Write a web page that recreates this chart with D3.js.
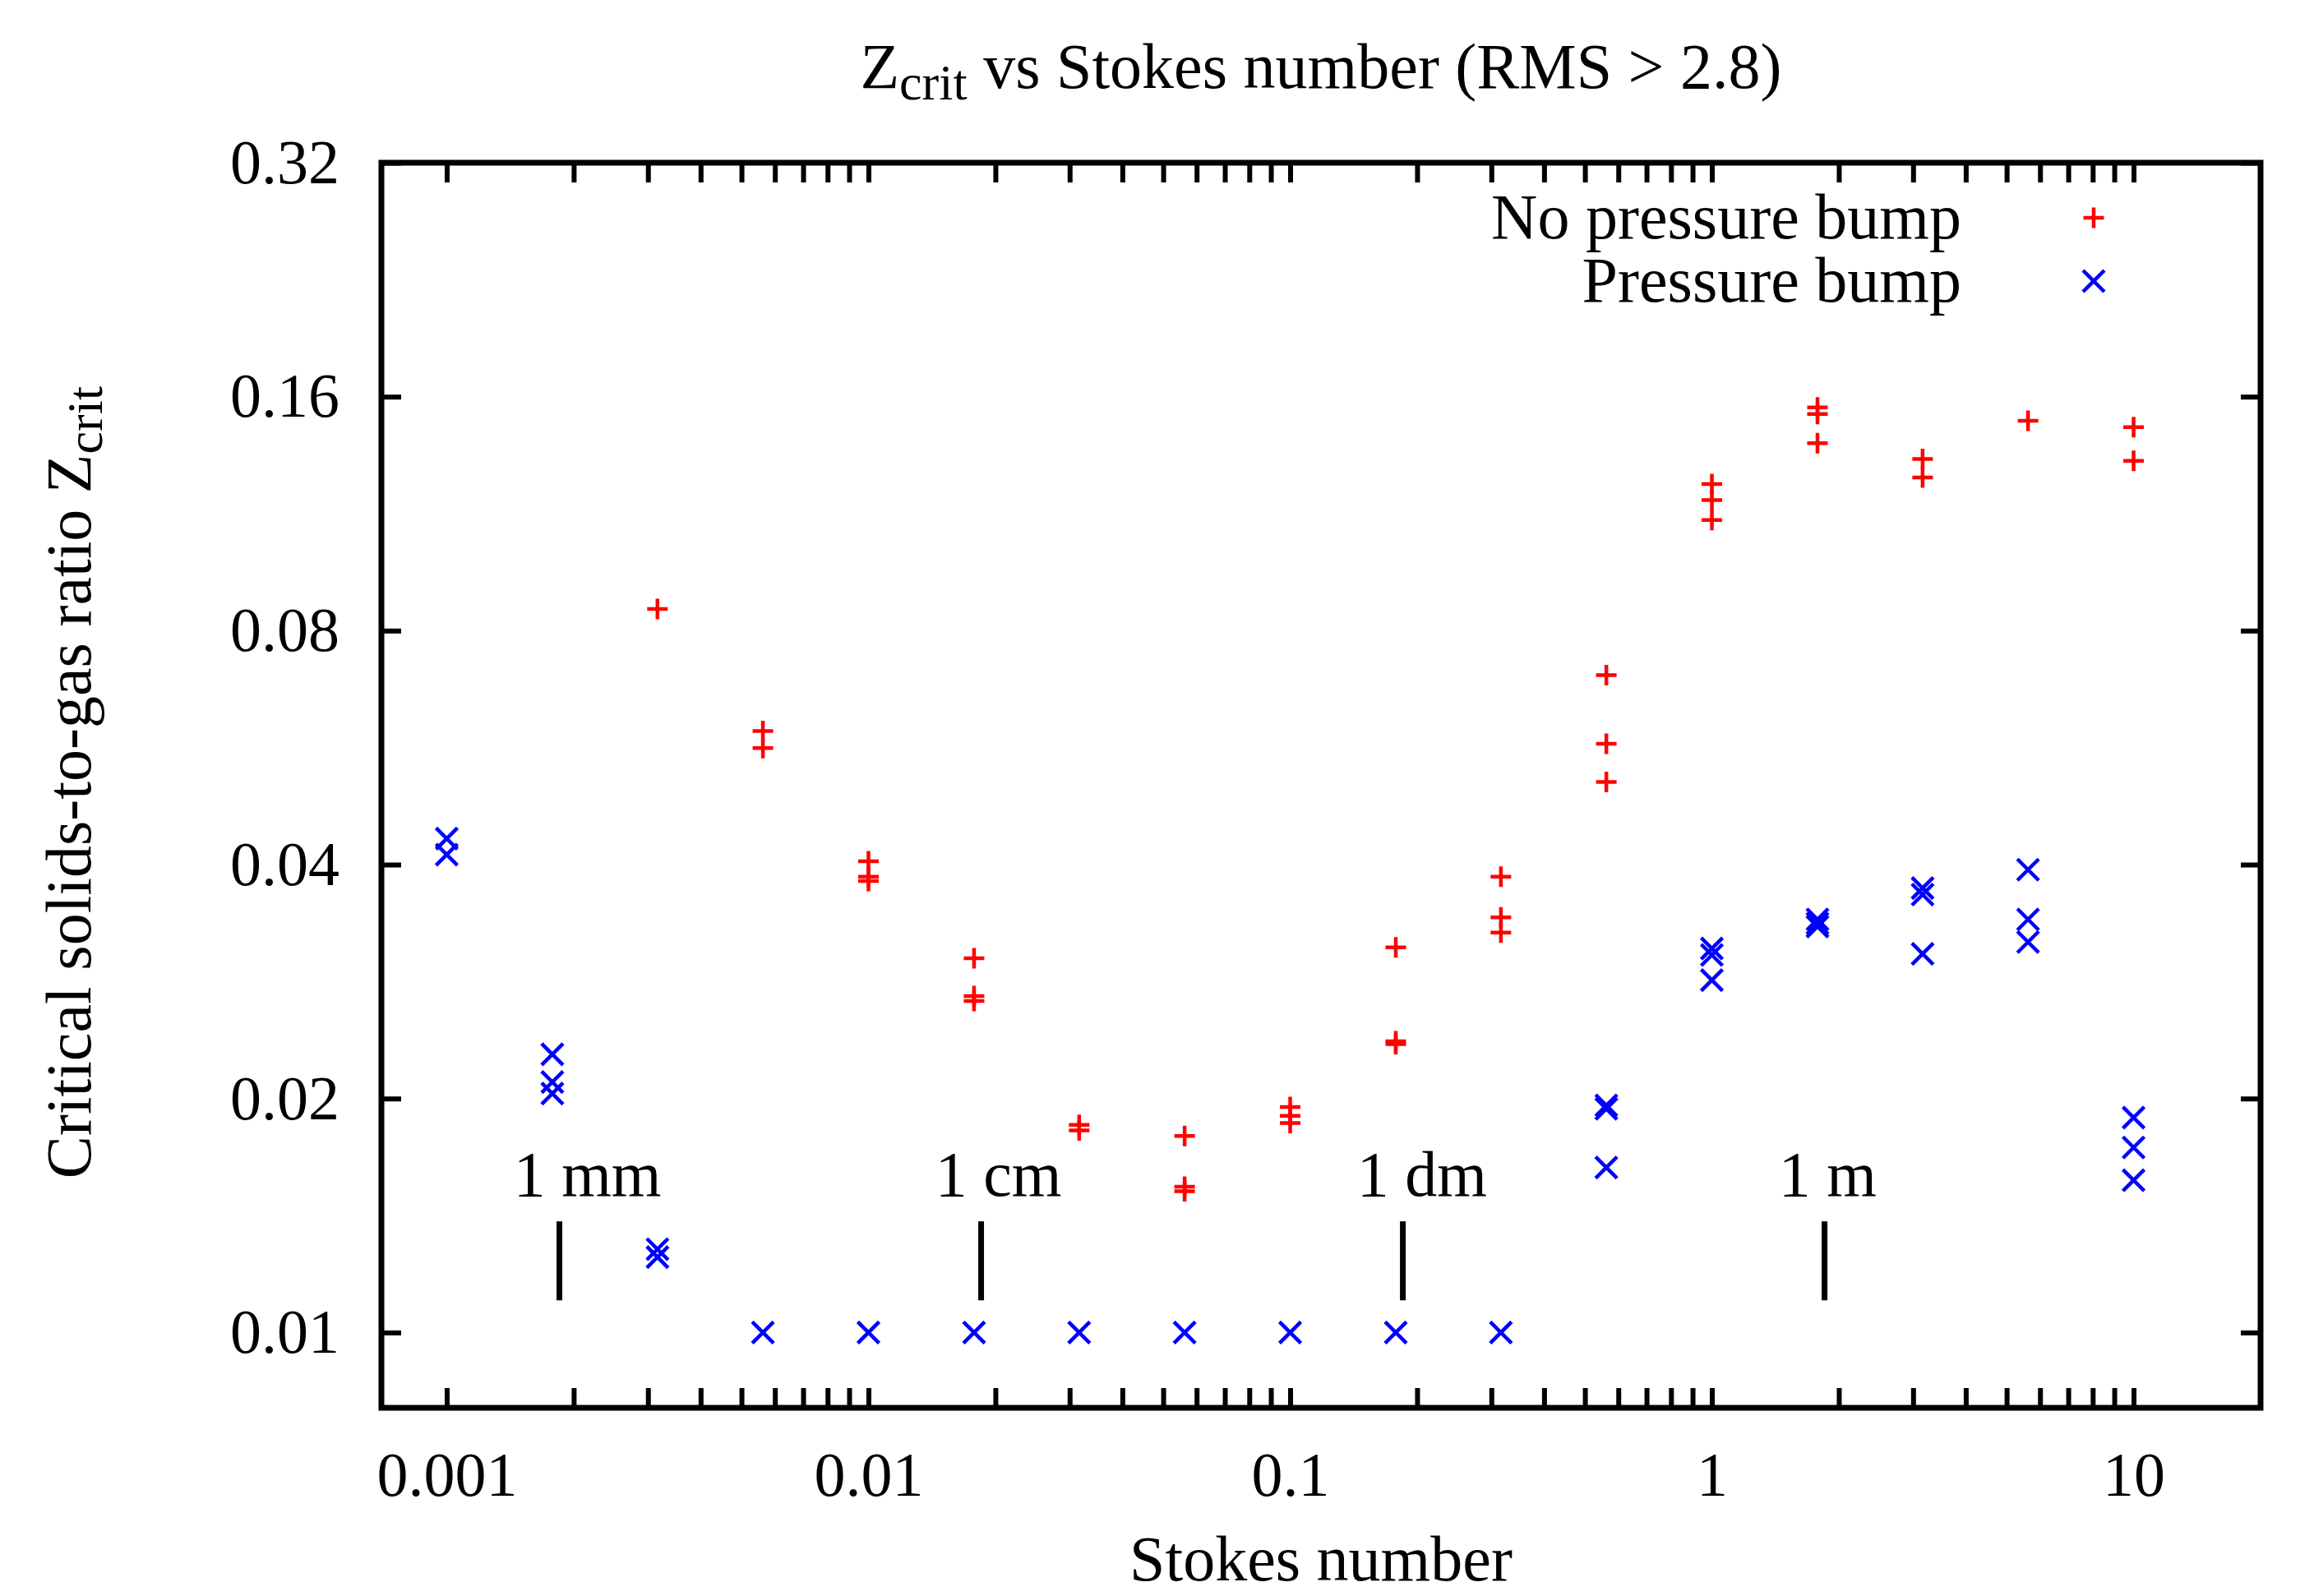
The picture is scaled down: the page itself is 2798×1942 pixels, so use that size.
<!DOCTYPE html>
<html>
<head>
<meta charset="utf-8">
<script src="https://cdn.jsdelivr.net/npm/d3@7"></script>
<style>
body { margin: 0; background: #fff; }
</style>
</head>
<body>
<div id="visual"></div>
<script>
// Stokes number of each run column
var stokes = [0.001, 0.00178, 0.00316, 0.00562, 0.01, 0.0178, 0.0316, 0.0562, 0.1,
    0.178, 0.316, 0.562, 1, 1.78, 3.16, 5.62, 10];

// Z_crit per column, no pressure bump (red +)
var noBump = [
    [], [], [0.0853], [0.0594, 0.0565], [0.0404, 0.0386, 0.0381],
    [0.0303, 0.0271, 0.0267], [0.0185, 0.0182], [0.0179, 0.0154, 0.0152],
    [0.0195, 0.0190, 0.0186], [0.0313, 0.0237, 0.0235], [0.0386, 0.0342, 0.0327],
    [0.0701, 0.0572, 0.0511], [0.1235, 0.1178, 0.1110], [0.155, 0.152, 0.1394],
    [0.1330, 0.1259], [0.149], [0.1462, 0.1323]
];

// Z_crit per column, with pressure bump (blue x)
var bump = [
    [0.0432, 0.0412], [0.0228, 0.0210, 0.0203], [0.0128, 0.0125], [0.01], [0.01],
    [0.01], [0.01], [0.01], [0.01], [0.01], [0.01],
    [0.0196, 0.0194, 0.0163], [0.0312, 0.0306, 0.0284], [0.0340, 0.0336, 0.0333],
    [0.0373, 0.0366, 0.0307], [0.0394, 0.0340, 0.0318], [0.0189, 0.0173, 0.0157]
];

var seriesNames = ['No pressure bump', 'Pressure bump'];
var seriesColours = ['#ff0000', '#0000ff'];

var xMajor = [0.001, 0.01, 0.1, 1, 10];
var yTicks = [0.01, 0.02, 0.04, 0.08, 0.16, 0.32];

// particle size markers
var sizeLabels = ['1 mm', '1 cm', '1 dm', '1 m'];
var sizeStokes = [0.00185, 0.0185, 0.185, 1.85];
var sizeLabelStokes = [0.00144, 0.0144, 0.144, 1.44];

var width = 2798, height = 1942;
var margin = { top: 198, right: 48, bottom: 229, left: 464 };
var w = width - margin.left - margin.right;
var h = height - margin.top - margin.bottom;
var font = '"Liberation Serif", "Times New Roman", serif';

var svg = d3.select('#visual')
    .append('svg')
    .attr('width', width)
    .attr('height', height)
    .style('background', 'white');

var g = svg.append('g')
    .attr('transform', 'translate(' + margin.left + ',' + margin.top + ')');

var x_scale = d3.scaleLog().domain([0.0007, 20]).range([0, w]);
var y_scale = d3.scaleLog().base(2).domain([0.008, 0.32]).range([h, 0]);

var fmt = d3.format('~g');
function isMajor(d) {
    return xMajor.some(function (m) { return Math.abs(m - d) / m < 1e-9; });
}
var xTicksAll = x_scale.ticks().filter(function (d) { return d >= 0.001 - 1e-12 && d <= 10 + 1e-9; });

function styleAxis(sel) {
    sel.select('.domain').remove();
    sel.attr('font-family', font).attr('font-size', 76);
    sel.selectAll('.tick line').attr('stroke', '#000').attr('stroke-width', 6);
    sel.selectAll('.tick text').attr('fill', '#000');
}

g.append('g')
    .attr('transform', 'translate(0,' + h + ')')
    .call(d3.axisBottom(x_scale).tickValues(xTicksAll).tickSizeInner(-24).tickSizeOuter(0)
        .tickPadding(53).tickFormat(function (d) { return isMajor(d) ? fmt(d) : ''; }))
    .call(styleAxis);

g.append('g')
    .call(d3.axisTop(x_scale).tickValues(xTicksAll).tickSizeInner(-24).tickSizeOuter(0)
        .tickFormat(''))
    .call(styleAxis);

g.append('g')
    .call(d3.axisLeft(y_scale).tickValues(yTicks).tickSizeInner(-24).tickSizeOuter(0)
        .tickPadding(51).tickFormat(fmt))
    .call(styleAxis);

g.append('g')
    .attr('transform', 'translate(' + w + ',0)')
    .call(d3.axisRight(y_scale).tickValues(yTicks).tickSizeInner(-24).tickSizeOuter(0)
        .tickFormat(''))
    .call(styleAxis);

// frame
g.append('rect')
    .attr('width', w)
    .attr('height', h)
    .attr('fill', 'none')
    .attr('stroke', '#000')
    .attr('stroke-width', 7);

// size markers
g.selectAll('.size-line')
    .data(sizeStokes)
    .enter().append('line')
    .attr('class', 'size-line')
    .attr('x1', function (d) { return x_scale(d); })
    .attr('x2', function (d) { return x_scale(d); })
    .attr('y1', y_scale(0.0139))
    .attr('y2', y_scale(0.011))
    .attr('stroke', '#000')
    .attr('stroke-width', 7);

g.selectAll('.size-label')
    .data(sizeLabels)
    .enter().append('text')
    .attr('class', 'size-label')
    .attr('x', function (d, i) { return x_scale(sizeLabelStokes[i]); })
    .attr('y', y_scale(0.015))
    .attr('font-family', font)
    .attr('font-size', 78)
    .text(function (d) { return d; });

// points
var plusPath = 'M-12.5,0H12.5M0,-12.5V12.5';
var crossPath = 'M-13,-13L13,13M-13,13L13,-13';
var symbols = [plusPath, crossPath];

function flatten(values) {
    var out = [];
    values.forEach(function (col, i) {
        col.forEach(function (v) { out.push({ x: stokes[i], y: v }); });
    });
    return out;
}

[noBump, bump].forEach(function (series, s) {
    g.append('g').selectAll('path')
        .data(flatten(series))
        .enter().append('path')
        .attr('transform', function (d) { return 'translate(' + x_scale(d.x) + ',' + y_scale(d.y) + ')'; })
        .attr('d', symbols[s])
        .attr('fill', 'none')
        .attr('stroke', seriesColours[s])
        .attr('stroke-width', 4.5);
});

// legend
var legend = g.append('g');
seriesNames.forEach(function (name, i) {
    legend.append('text')
        .attr('x', 1922)
        .attr('y', 92 + i * 77)
        .attr('text-anchor', 'end')
        .attr('font-family', font)
        .attr('font-size', 78)
        .text(name);
    legend.append('path')
        .attr('transform', 'translate(2083,' + (67 + i * 77) + ')')
        .attr('d', symbols[i])
        .attr('fill', 'none')
        .attr('stroke', seriesColours[i])
        .attr('stroke-width', 4.5);
});

// title
var title = svg.append('text')
    .attr('x', margin.left + w / 2)
    .attr('y', 107)
    .attr('text-anchor', 'middle')
    .attr('font-family', font)
    .attr('font-size', 78);
title.append('tspan').text('Z');
title.append('tspan').attr('dy', 14).attr('font-size', 62).text('crit');
title.append('tspan').attr('dy', -14).text(' vs Stokes number (RMS > 2.8)');

// axis labels
svg.append('text')
    .attr('x', margin.left + w / 2)
    .attr('y', 1923)
    .attr('text-anchor', 'middle')
    .attr('font-family', font)
    .attr('font-size', 78)
    .text('Stokes number');

var ylab = svg.append('text')
    .attr('transform', 'translate(110,952) rotate(-90)')
    .attr('text-anchor', 'middle')
    .attr('font-family', font)
    .attr('font-size', 78);
ylab.append('tspan').text('Critical solids-to-gas ratio Z');
ylab.append('tspan').attr('dy', 14).attr('font-size', 62).text('crit');
</script>
</body>
</html>
